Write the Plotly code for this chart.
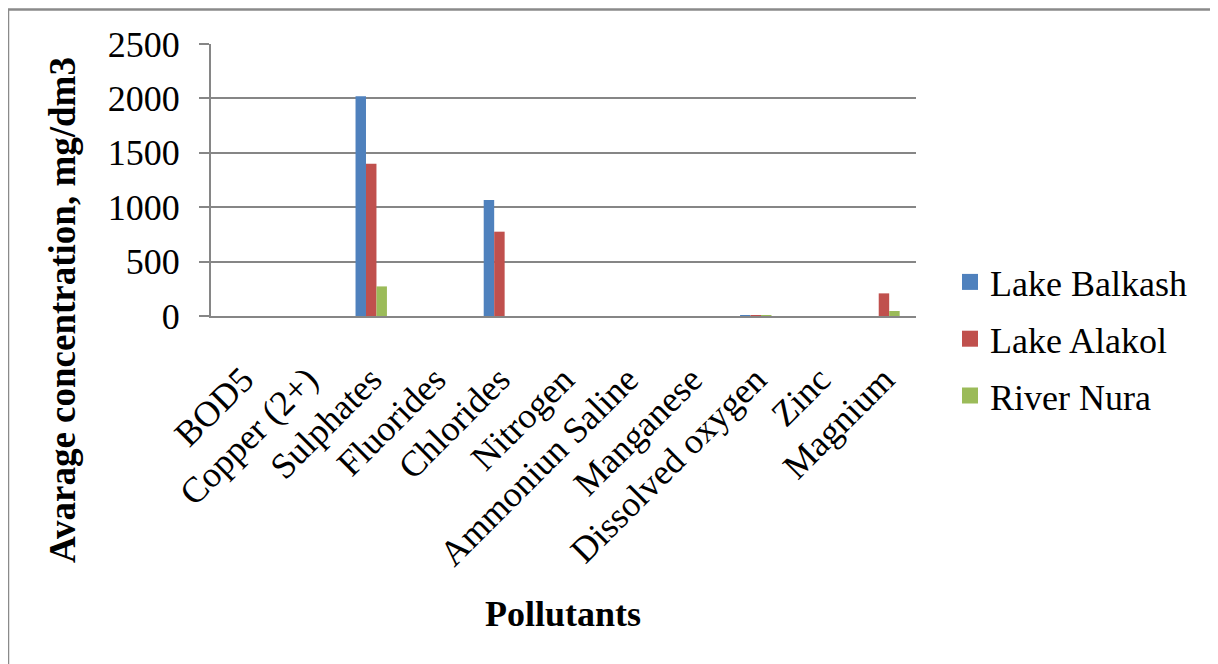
import plotly.graph_objects as go

categories = ["BOD5", "Copper (2+)", "Sulphates", "Fluorides", "Chlorides", "Nitrogen",
              "Ammoniun Saline", "Manganese", "Dissolved oxygen", "Zinc", "Magnium"]
balkash = [0, 0, 2020, 0, 1067, 0, 0, 0, 9.0, 0, 0]
alakol = [0, 0, 1400, 0, 775, 0, 0, 0, 4.0, 0, 208]
nura = [0, 0, 272, 0, 0, 0, 0, 0, 4.0, 0, 46]
series_names = ["Lake Balkash", "Lake Alakol", "River Nura"]
colors = ["#4F81BD", "#C0504D", "#9BBB59"]
y_ticks = [0, 500, 1000, 1500, 2000, 2500]

W, H = 1218, 664
OFF = 8  # page body margin offset
L, R, T, B = 211 - OFF, 916 - OFF, 44 - OFF, 316 - OFF  # plot-area pixel edges

def px_x(x):
    return (x - OFF - L) / (R - L)

def px_y(y):
    return (B - (y - OFF)) / (B - T)

font = "Liberation Serif, Times New Roman, serif"
fs = 36
grid = "#868686"

fig = go.Figure()
for name, vals, c in zip(series_names, [balkash, alakol, nura], colors):
    fig.add_trace(go.Bar(x=categories, y=vals, name=name, marker_color=c,
                         marker_line_width=0, showlegend=False, legendgroup=name))
# legend entries with larger square swatches
for name, c in zip(series_names, colors):
    fig.add_trace(go.Scatter(x=[None], y=[None], mode="markers", name=name,
                             marker=dict(symbol="square", size=16, color=c),
                             legendgroup=name, showlegend=True, hoverinfo="skip"))

fig.update_layout(
    width=W, height=H,
    margin=dict(l=L, r=W - R, t=T, b=H - B, autoexpand=False),
    paper_bgcolor="white", plot_bgcolor="white",
    barmode="group", bargap=0.51, bargroupgap=0,
    font=dict(family=font, size=fs, color="black"),
    showlegend=True,
    legend=dict(x=px_x(950), y=px_y(252), xanchor="left", yanchor="top",
                font=dict(family=font, size=fs), tracegroupgap=7,
                bgcolor="rgba(0,0,0,0)", itemwidth=30, itemsizing="trace"),
    xaxis=dict(tickangle=-45, showgrid=False, showline=True, linecolor=grid, linewidth=2,
               ticks="", ticklabelstandoff=26, tickfont=dict(family=font, size=fs)),
    yaxis=dict(range=[0, 2500], tickvals=y_ticks, showgrid=True, gridcolor=grid, gridwidth=1.5,
               showline=True, linecolor=grid, linewidth=2, ticks="outside", ticklen=10,
               tickcolor=grid, tickwidth=1.5, zeroline=False, ticklabelstandoff=12,
               tickfont=dict(family=font, size=fs)),
)

fig.add_annotation(text="<b>Avarage concentration, mg/dm3</b>", xref="paper", yref="paper",
                   x=px_x(62), y=px_y(310), textangle=-90, showarrow=False,
                   font=dict(family=font, size=37), xanchor="center", yanchor="middle")
fig.add_annotation(text="<b>Pollutants</b>", xref="paper", yref="paper",
                   x=px_x(563), y=px_y(614), showarrow=False,
                   font=dict(family=font, size=fs), xanchor="center", yanchor="middle")

fig.add_shape(type="rect", xref="paper", yref="paper",
              x0=px_x(8), x1=px_x(1240), y0=px_y(690), y1=px_y(9.5),
              line=dict(color="#8A8A8A", width=2.5), fillcolor="rgba(0,0,0,0)", layer="below")

fig.write_html("out.html")
